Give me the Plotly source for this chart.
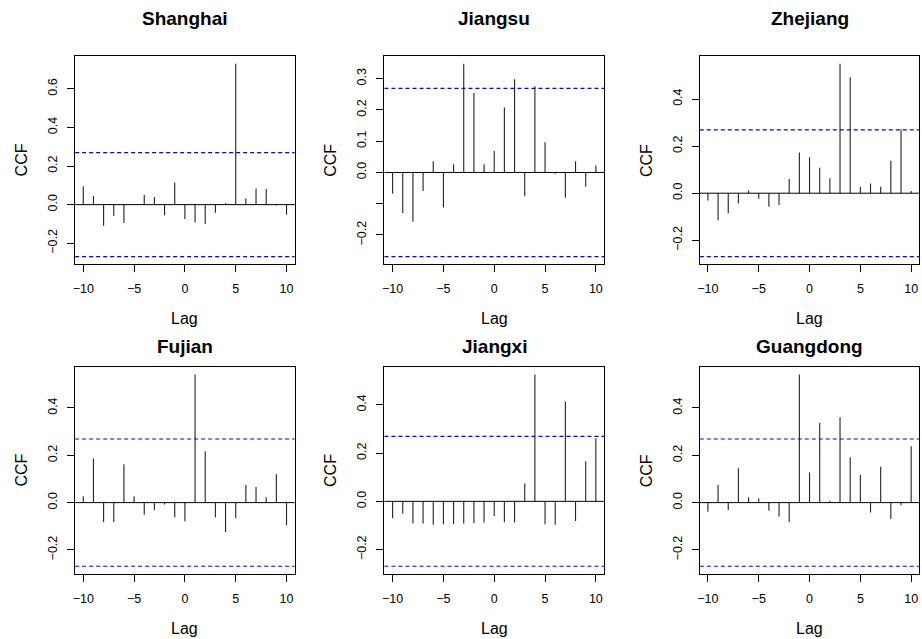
import plotly.graph_objects as go

# ---------------- data ----------------
lags = list(range(-10, 11))
regions = ["Shanghai", "Jiangsu", "Zhejiang", "Fujian", "Jiangxi", "Guangdong"]

shanghai = [0.095, 0.045, -0.110, -0.059, -0.095, 0.002, 0.050, 0.040, -0.055, 0.114, -0.074,
            -0.092, -0.099, -0.042, 0.007, 0.730, 0.033, 0.083, 0.081, -0.005, -0.052]
jiangsu = [-0.067, -0.130, -0.158, -0.059, 0.036, -0.111, 0.026, 0.348, 0.254, 0.026, 0.069,
           0.208, 0.298, -0.076, 0.276, 0.097, -0.004, -0.081, 0.036, -0.046, 0.022]
zhejiang = [-0.031, -0.115, -0.085, -0.044, 0.011, -0.024, -0.058, -0.050, 0.060, 0.173, 0.153,
            0.108, 0.064, 0.550, 0.492, 0.027, 0.041, 0.027, 0.138, 0.271, 0.009]
fujian = [0.027, 0.187, -0.082, -0.082, 0.162, 0.027, -0.051, -0.031, -0.008, -0.062, -0.079,
          0.542, 0.217, -0.062, -0.124, -0.066, 0.075, 0.066, 0.023, 0.120, -0.096]
jiangxi = [-0.070, -0.051, -0.092, -0.092, -0.097, -0.095, -0.094, -0.092, -0.090, -0.088, -0.061,
           -0.087, -0.088, 0.074, 0.526, -0.095, -0.097, 0.414, -0.081, 0.166, 0.261]
guangdong = [-0.039, 0.075, -0.031, 0.145, 0.023, 0.017, -0.034, -0.059, -0.082, 0.542, 0.127,
             0.338, 0.008, 0.361, 0.192, 0.118, -0.042, 0.152, -0.069, -0.011, 0.238]
series = [shanghai, jiangsu, zhejiang, fujian, jiangxi, guangdong]

ci = 0.2692  # 95% confidence bound

x_ticks = [-10, -5, 0, 5, 10]
x_ticktext = ["\u221210", "\u22125", "0", "5", "10"]
y_ticks = [
    [-0.2, 0.0, 0.2, 0.4, 0.6],
    [-0.2, -0.1, 0.0, 0.1, 0.2, 0.3],
    [-0.2, 0.0, 0.2, 0.4],
    [-0.2, 0.0, 0.2, 0.4],
    [-0.2, 0.0, 0.2, 0.4],
    [-0.2, 0.0, 0.2, 0.4],
]
y_ticktext = [
    ["\u22120.2", "0.0", "0.2", "0.4", "0.6"],
    ["\u22120.2", "", "0.0", "0.1", "0.2", "0.3"],
    ["\u22120.2", "0.0", "0.2", "0.4"],
    ["\u22120.2", "0.0", "0.2", "0.4"],
    ["\u22120.2", "0.0", "0.2", "0.4"],
    ["\u22120.2", "0.0", "0.2", "0.4"],
]

# ---------------- layout geometry (pixels) ----------------
W, H = 922, 639
col_px = [(73.3, 293.3), (383.3, 603.3), (699.3, 919.3)]
row_px = [(56.0, 264.3), (366.7, 574.0)]
title_px = [19.0, 347.0]
FONT = "Liberation Sans, Arial, Helvetica, sans-serif"

fig = go.Figure()
shapes = []
annotations = []
layout_axes = {}

for i, (name, vals) in enumerate(zip(regions, series)):
    r, c = divmod(i, 3)
    n = i + 1
    xa = "x" if n == 1 else f"x{n}"
    ya = "y" if n == 1 else f"y{n}"
    xs, ys = [], []
    for l, v in zip(lags, vals):
        xs += [l, l, None]
        ys += [0, v, None]
    fig.add_trace(go.Scatter(x=xs, y=ys, mode="lines", line=dict(color="#222222", width=1.1),
                             xaxis=xa, yaxis=ya, showlegend=False, hoverinfo="skip"))

    lo = min(-ci, min(vals))
    hi = max(ci, max(vals))
    pad = 0.04 * (hi - lo)
    xlo, xhi = min(lags), max(lags)
    xpad = 0.04 * (xhi - xlo)

    x0p, x1p = col_px[c]
    y0p, y1p = row_px[r]
    xdom = [x0p / W, x1p / W]
    ydom = [1 - y1p / H, 1 - y0p / H]

    axis_common = dict(showgrid=False, zeroline=False, showline=True, mirror=True,
                       linecolor="black", linewidth=1, ticks="outside", ticklen=7,
                       tickwidth=1, tickcolor="black",
                       tickfont=dict(family=FONT, size=12.5, color="black"))
    layout_axes["xaxis" if n == 1 else f"xaxis{n}"] = dict(
        domain=xdom, range=[xlo - xpad, xhi + xpad], anchor=ya,
        tickvals=x_ticks, ticktext=x_ticktext, ticklabelstandoff=6, **axis_common)
    layout_axes["yaxis" if n == 1 else f"yaxis{n}"] = dict(
        domain=ydom, range=[lo - pad, hi + pad], anchor=xa,
        tickvals=y_ticks[i], ticktext=y_ticktext[i], tickangle=-90,
        ticklabelstandoff=5, **axis_common)

    # zero line
    shapes.append(dict(type="line", xref=f"{xa} domain", yref=ya, x0=0, x1=1, y0=0, y1=0,
                       line=dict(color="black", width=1)))
    # confidence bounds
    for b in (ci, -ci):
        shapes.append(dict(type="line", xref=f"{xa} domain", yref=ya, x0=0, x1=1, y0=b, y1=b,
                           line=dict(color="blue", width=1.1, dash="4px,3px")))

    cx = (x0p + x1p) / 2 / W
    # title
    annotations.append(dict(text=name, x=cx, y=1 - title_px[r] / H, xref="paper", yref="paper",
                            showarrow=False, xanchor="center", yanchor="middle",
                            font=dict(family=FONT, size=19, color="black", weight="bold")))
    # x label
    annotations.append(dict(text="Lag", x=cx, y=1 - (y1p + 54) / H, xref="paper", yref="paper",
                            showarrow=False, xanchor="center", yanchor="middle",
                            font=dict(family=FONT, size=16, color="black")))
    # y label
    annotations.append(dict(text="CCF", x=(x0p - 54) / W, y=1 - (y0p + y1p) / 2 / H,
                            xref="paper", yref="paper", textangle=-90,
                            showarrow=False, xanchor="center", yanchor="middle",
                            font=dict(family=FONT, size=16, color="black")))

fig.update_layout(width=W, height=H, margin=dict(l=0, r=0, t=0, b=0),
                  paper_bgcolor="white", plot_bgcolor="white",
                  shapes=shapes, annotations=annotations, **layout_axes)

fig.write_html("out.html", config={"displayModeBar": False},
               post_script="document.body.style.margin='0';document.body.style.overflow='hidden';")
